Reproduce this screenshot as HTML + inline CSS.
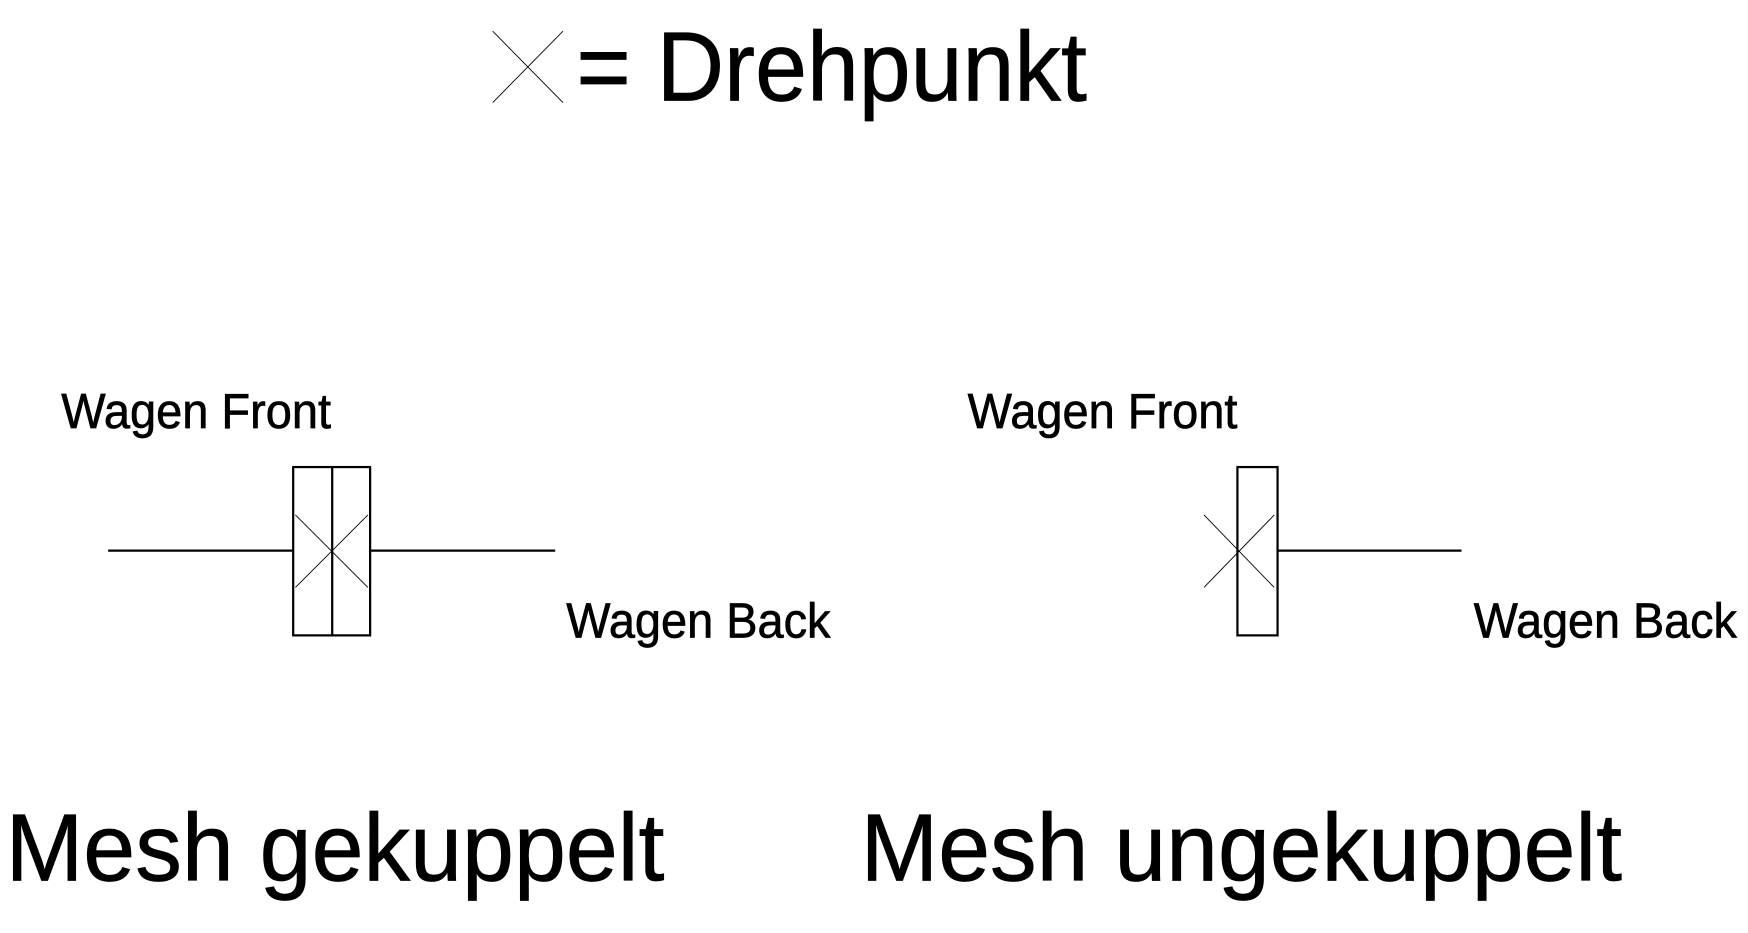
<!DOCTYPE html>
<html><head><style>html,body{margin:0;padding:0;background:#fff;}svg{display:block}</style></head>
<body>
<svg width="1748" height="933" viewBox="0 0 1568 837" preserveAspectRatio="none" xmlns="http://www.w3.org/2000/svg" font-family="Liberation Sans, sans-serif" fill="#000">
<rect width="1568" height="837" fill="#fff"/>
<g stroke="#000" stroke-width="0.8" fill="none">
<line x1="442" y1="28" x2="505" y2="92"/><line x1="442" y1="92" x2="505" y2="28"/>
<line x1="265" y1="462" x2="330" y2="527"/><line x1="265" y1="527" x2="330" y2="462"/>
<line x1="1080" y1="462" x2="1143" y2="527"/><line x1="1080" y1="527" x2="1143" y2="462"/>
</g>
<g stroke="#000" stroke-width="2" fill="none">
<line x1="97" y1="494" x2="263" y2="494"/><line x1="332" y1="494" x2="498" y2="494"/>
<rect x="263" y="419" width="69" height="151"/><line x1="298" y1="419" x2="298" y2="570"/>
<rect x="1110" y="419" width="36" height="151"/><line x1="1146" y1="494" x2="1311" y2="494"/>
</g>
<g stroke="#000" stroke-width="0.6">
<text x="517" y="90" font-size="88" textLength="458" lengthAdjust="spacingAndGlyphs">= Drehpunkt</text>
<text x="55" y="384" font-size="44" textLength="242" lengthAdjust="spacingAndGlyphs">Wagen Front</text>
<text x="508" y="572" font-size="44" textLength="237" lengthAdjust="spacingAndGlyphs">Wagen Back</text>
<text x="868" y="384" font-size="44" textLength="242" lengthAdjust="spacingAndGlyphs">Wagen Front</text>
<text x="1322" y="572" font-size="44" textLength="236" lengthAdjust="spacingAndGlyphs">Wagen Back</text>
<text x="5" y="790" font-size="86" textLength="591" lengthAdjust="spacingAndGlyphs">Mesh gekuppelt</text>
<text x="772" y="790" font-size="86" textLength="683" lengthAdjust="spacingAndGlyphs">Mesh ungekuppelt</text>
</g>
</svg>
</body></html>
